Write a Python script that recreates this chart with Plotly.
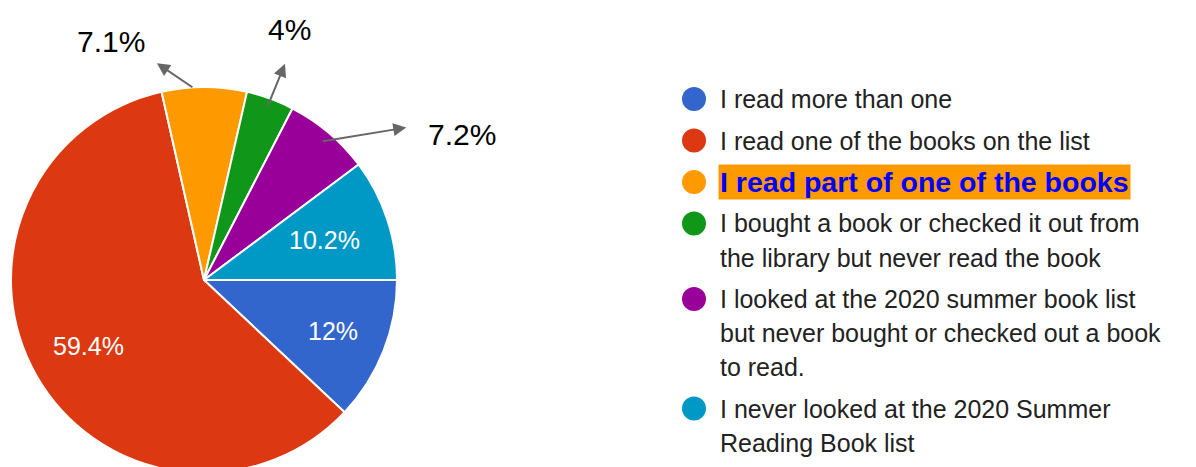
import numpy as np
import plotly.graph_objects as go

# ---- data ----
categories = [
    "I read more than one",
    "I read one of the books on the list",
    "I read part of one of the books",
    "I bought a book or checked it out from<br>the library but never read the book",
    "I looked at the 2020 summer book list<br>but never bought or checked out a book<br>to read.",
    "I never looked at the 2020 Summer<br>Reading Book list",
]
values = [12, 59.4, 7.1, 4, 7.2, 10.2]
pct_labels = ["12%", "59.4%", "7.1%", "4%", "7.2%", "10.2%"]
colors = ["#3366cc", "#dc3912", "#ff9900", "#109618", "#990099", "#0099c6"]

# ---- layout constants ----
W, H = 1196, 480
CX, CY, R = 204, 280, 193          # pie centre / radius in pixels
FONT = "Arial, Liberation Sans, sans-serif"

def px(x):
    return x / W

def py(y):
    return 1 - y / H

fig = go.Figure(go.Pie(
    labels=[c.replace("<br>", " ") for c in categories],
    values=values,
    sort=False,
    direction="clockwise",
    rotation=90,
    marker=dict(colors=colors, line=dict(color="white", width=2)),
    textinfo="none",
    hoverinfo="label+percent",
    showlegend=False,
    domain=dict(x=[px(CX - R), px(CX + R)], y=[py(CY + R), py(CY - R)]),
))

# slice mid-angles (clockwise from east, screen coords)
vals = np.array(values)
frac = vals / vals.sum()
ends = np.cumsum(frac) * 360
starts = ends - frac * 360
mids = np.radians((starts + ends) / 2)

annotations = []
inside = {0: 0.72, 1: 0.69, 5: 0.66}
# outside: (tail radius fraction, tail angle shift deg, head dx, head dy, text dx, text dy)
outside = {
    2: (0.995, -3.1, -37, -25, -46, -22),
    3: (0.95, 0.0, 18, -44, 5, -34),
    4: (0.94, 0.0, 85, -14, 56, 7),
}
for i, lab in enumerate(pct_labels):
    if i in inside:
        f = inside[i]
        x = CX + R * f * np.cos(mids[i])
        y = CY + R * f * np.sin(mids[i])
        annotations.append(dict(x=px(x), y=py(y), xref="paper", yref="paper",
                                xanchor="center", yanchor="middle",
                                text=lab, showarrow=False,
                                font=dict(family=FONT, size=25, color="white")))
    else:
        f, sh, hdx, hdy, tdx, tdy = outside[i]
        a = mids[i] + np.radians(sh)
        tx = CX + R * f * np.cos(a)
        ty = CY + R * f * np.sin(a)
        hx, hy = tx + hdx, ty + hdy
        annotations.append(dict(x=px(hx), y=py(hy), xref="paper", yref="paper",
                                ax=-hdx, ay=-hdy, text="", showarrow=True,
                                arrowhead=2, arrowsize=1.3, arrowwidth=2,
                                arrowcolor="#666666"))
        annotations.append(dict(x=px(hx + tdx), y=py(hy + tdy), xref="paper", yref="paper",
                                xanchor="center", yanchor="middle",
                                text=lab, showarrow=False,
                                font=dict(family=FONT, size=30, color="#000000")))

# ---- custom legend ----
LX_DOT, LX_TEXT = 694, 718
LY0, LINE, GAP = 99, 34, 41.5
shapes = []
y = LY0
for i, cat in enumerate(categories):
    lines = cat.split("<br>")
    shapes.append(dict(type="circle", xref="paper", yref="paper",
                       x0=px(LX_DOT - 12), x1=px(LX_DOT + 12),
                       y0=py(y + 12), y1=py(y - 12),
                       fillcolor=colors[i], line=dict(width=0)))
    for j, ln in enumerate(lines):
        yy = y + j * LINE
        if i == 2:
            annotations.append(dict(x=px(LX_TEXT), y=py(yy), xref="paper", yref="paper",
                                    xanchor="left", yanchor="middle", text="<b>" + ln + "</b>",
                                    showarrow=False, bgcolor="#ff9900", borderpad=1,
                                    font=dict(family=FONT, size=28.5, color="#0000ff")))
        else:
            annotations.append(dict(x=px(LX_TEXT), y=py(yy), xref="paper", yref="paper",
                                    xanchor="left", yanchor="middle", text=ln,
                                    showarrow=False,
                                    font=dict(family=FONT, size=25, color="#222222")))
    y += (len(lines) - 1) * LINE + GAP

fig.update_layout(
    width=W, height=H,
    margin=dict(l=0, r=0, t=0, b=0),
    paper_bgcolor="white", plot_bgcolor="white",
    annotations=annotations, shapes=shapes,
)

fig.write_html("out.html", config={"displayModeBar": False},
               post_script="document.body.style.margin='0';document.body.style.overflow='hidden';")
